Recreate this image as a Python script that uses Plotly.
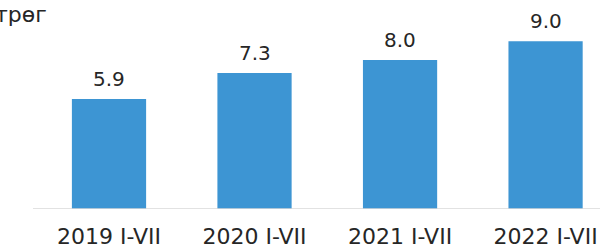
import plotly.graph_objects as go

categories = ["2019 I-VII", "2020 I-VII", "2021 I-VII", "2022 I-VII"]
values = [5.9, 7.3, 8.0, 9.0]
unit_label = "трөг"

bar_color = "#3d95d3"
font_family = "DejaVu Sans"

fig = go.Figure()
fig.add_trace(go.Bar(
    x=categories, y=values,
    marker=dict(color=bar_color, line=dict(width=0)),
    hoverinfo="skip",
))

for c, v in zip(categories, values):
    fig.add_annotation(x=c, y=v, text=f"{v:.1f}", showarrow=False,
                       yanchor="bottom", yshift=6,
                       font=dict(family=font_family, size=20, color="#262626"))

fig.add_annotation(xref="paper", yref="paper", x=-0.012, y=1.0,
                   xanchor="left", yanchor="top", text=unit_label,
                   showarrow=False,
                   font=dict(family=font_family, size=22, color="#262626"))

fig.add_shape(type="line", xref="paper", yref="y", x0=0.055, x1=1, y0=0, y1=0,
              line=dict(color="#d9d9d9", width=1.5))

fig.update_layout(
    width=600, height=249,
    margin=dict(l=0, r=0, t=0, b=40),
    plot_bgcolor="white", paper_bgcolor="white",
    bargap=0.49, showlegend=False,
    xaxis=dict(type="category", range=[-0.749, 3.374], showgrid=False,
               showline=False, zeroline=False, ticks="outside", ticklen=8,
               tickcolor="rgba(0,0,0,0)",
               tickfont=dict(family=font_family, size=22, color="#262626")),
    yaxis=dict(range=[0, 11.22], visible=False),
)

fig.write_html("out.html", config={"displayModeBar": False},
               post_script="document.body.style.margin='0';document.body.style.overflow='hidden';")
